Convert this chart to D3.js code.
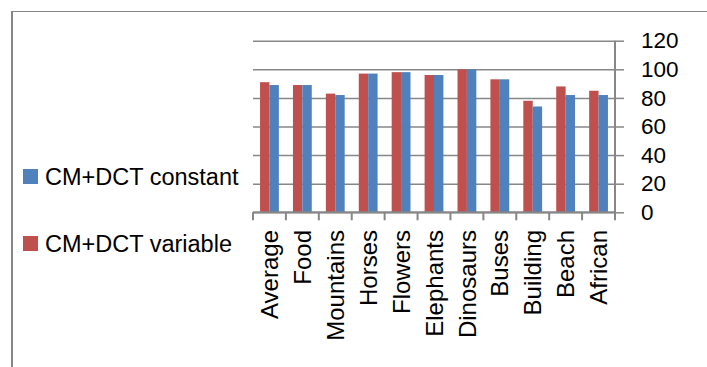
<!DOCTYPE html>
<html>
<head>
<meta charset="utf-8">
<script src="https://cdn.jsdelivr.net/npm/d3@7/dist/d3.min.js"></script>
<style>
  body { margin: 0; background: #fff; }
  svg { display: block; }
  text { font-family: "Liberation Sans", Arial, sans-serif; fill: #000; }
</style>
</head>
<body>
<div class="js-chart"></div>
<script>
var categories = ['Average', 'Food', 'Mountains', 'Horses', 'Flowers', 'Elephants',
                  'Dinosaurs', 'Buses', 'Building', 'Beach', 'African'];
var variableValues = [91, 89, 83, 97, 98, 96, 100, 93, 78, 88, 85];
var constantValues = [89, 89, 82, 97, 98, 96, 100, 93, 74, 82, 82];
var seriesNames = ['CM+DCT variable', 'CM+DCT constant'];
var seriesColors = ['#C0504D', '#4F81BD'];
var yTicks = [0, 20, 40, 60, 80, 100, 120];

var width = 707, height = 367,
    plotLeft = 253, plotRight = 615,
    plotTop = 40.7, plotBottom = 212.3,
    gridColor = '#878787';

var svg = d3.select('.js-chart').append('svg')
            .attr('width', width)
            .attr('height', height);

// frame (only top and left edges show in the picture)
svg.append('line')
   .attr('x1', 11).attr('x2', width).attr('y1', 11.5).attr('y2', 11.5)
   .attr('stroke', gridColor).attr('stroke-width', 1.2);
svg.append('line')
   .attr('x1', 12).attr('x2', 12).attr('y1', 11).attr('y2', height)
   .attr('stroke', gridColor).attr('stroke-width', 2);

var x = d3.scaleBand()
          .domain(categories)
          .range([plotLeft, plotRight]);

var gap = x.bandwidth() * 1.5 / 3.5 / 2;
var xInner = d3.scaleBand()
               .domain([0, 1])
               .range([gap, x.bandwidth() - gap]);

var y = d3.scaleLinear()
          .domain([0, 120])
          .range([plotBottom, plotTop]);

// gridlines
svg.append('g')
   .attr('transform', `translate(${plotLeft}, 0)`)
   .call(d3.axisRight(y).tickValues(yTicks).tickSize(plotRight - plotLeft).tickFormat(''))
   .call(function (g) {
     g.select('.domain').remove();
     g.selectAll('line').attr('stroke', gridColor).attr('stroke-width', 1.5);
   });

// bars
var rows = categories.map(function (c, i) {
  return { name: c, values: [variableValues[i], constantValues[i]] };
});

var groups = svg.selectAll('g.cat')
                .data(rows)
                .enter()
                .append('g')
                .attr('class', 'cat')
                .attr('transform', function (d) { return `translate(${x(d.name)}, 0)`; });

groups.selectAll('rect')
      .data(function (d) { return d.values.map(function (v, s) { return { s: s, v: v }; }); })
      .enter()
      .append('rect')
      .attr('x', function (d) { return xInner(d.s); })
      .attr('width', xInner.bandwidth())
      .attr('y', function (d) { return y(d.v); })
      .attr('height', function (d) { return y(0) - y(d.v); })
      .attr('fill', function (d) { return seriesColors[d.s]; });

// right value axis
var yAxis = svg.append('g')
   .attr('transform', `translate(${plotRight}, 0)`)
   .call(d3.axisRight(y).tickValues(yTicks).tickSize(9).tickPadding(17));
yAxis.select('.domain').attr('stroke', gridColor).attr('stroke-width', 2)
     .attr('d', `M0,${plotTop}V${plotBottom}`);
yAxis.selectAll('.tick line').attr('stroke', gridColor).attr('stroke-width', 1.5);
yAxis.selectAll('.tick text')
     .attr('font-size', 22.5)
     .attr('font-family', '"Liberation Sans", Arial, sans-serif')
     .attr('fill', '#000');

// category axis
svg.append('line')
   .attr('x1', plotLeft).attr('x2', plotRight)
   .attr('y1', plotBottom).attr('y2', plotBottom)
   .attr('stroke', gridColor).attr('stroke-width', 2);

var bounds = categories.map(function (c) { return x(c); }).concat([x.range()[1]]);
svg.selectAll('line.xtick')
   .data(bounds)
   .enter()
   .append('line')
   .attr('class', 'xtick')
   .attr('x1', function (d) { return d; })
   .attr('x2', function (d) { return d; })
   .attr('y1', plotBottom)
   .attr('y2', plotBottom + 8)
   .attr('stroke', gridColor)
   .attr('stroke-width', 2);

svg.selectAll('text.cat-label')
   .data(categories)
   .enter()
   .append('text')
   .attr('class', 'cat-label')
   .attr('font-size', 24)
   .attr('text-anchor', 'end')
   .attr('dy', '0.36em')
   .attr('transform', function (d) {
     return `translate(${x(d) + x.bandwidth() / 2}, 230) rotate(-90)`;
   })
   .text(function (d) { return d; });

// legend: constant listed first
var legendItems = [
  { name: seriesNames[1], color: seriesColors[1], y: 169 },
  { name: seriesNames[0], color: seriesColors[0], y: 236 }
];

var legend = svg.selectAll('g.legend')
                .data(legendItems)
                .enter()
                .append('g')
                .attr('class', 'legend')
                .attr('transform', function (d) { return `translate(23, ${d.y})`; });

legend.append('rect')
      .attr('width', 15)
      .attr('height', 15)
      .attr('fill', function (d) { return d.color; });

legend.append('text')
      .attr('x', 22)
      .attr('y', 15.5)
      .attr('font-size', 23.5)
      .text(function (d) { return d.name; });
</script>
</body>
</html>
